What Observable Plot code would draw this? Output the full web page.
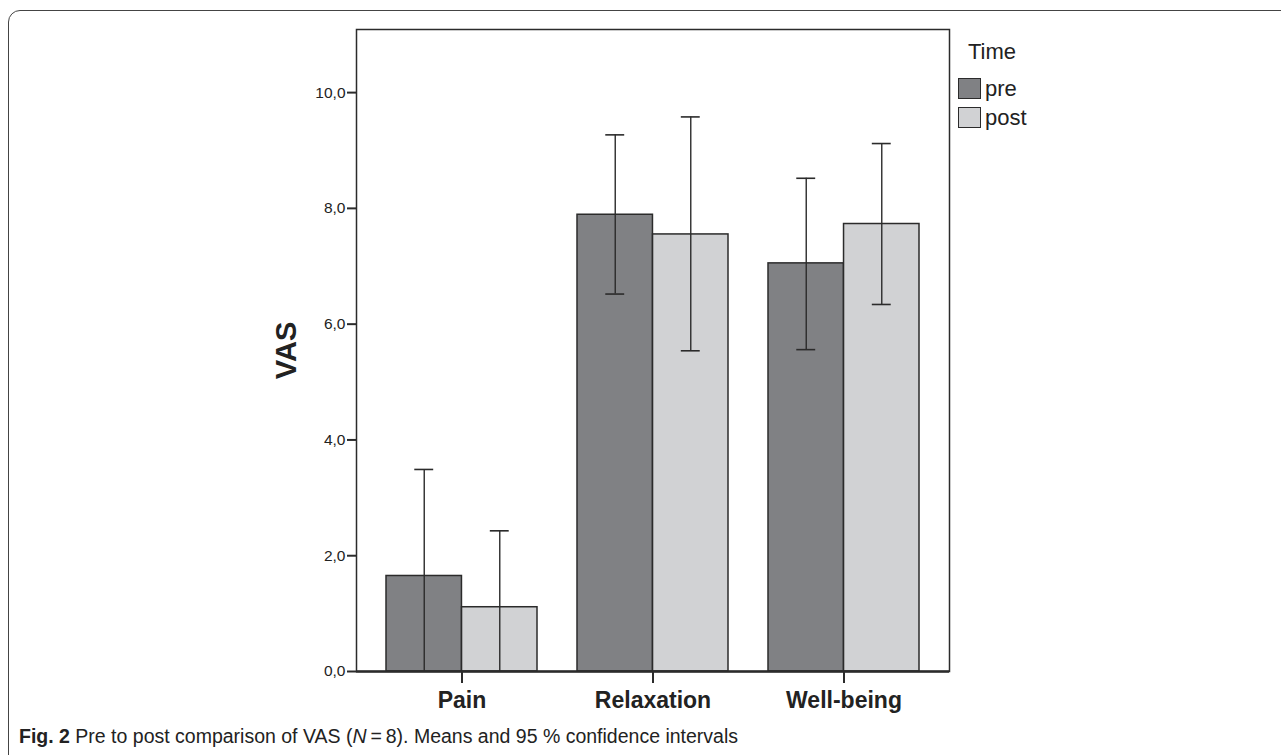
<!DOCTYPE html>
<html><head><meta charset="utf-8">
<script src="https://cdn.jsdelivr.net/npm/d3@7"></script>
<script src="https://cdn.jsdelivr.net/npm/@observablehq/plot@0.6"></script>
<style>
body{margin:0;background:#fff;font-family:"Liberation Sans",Arial,sans-serif;}
#wrap{position:relative;width:1281px;height:755px;overflow:hidden;background:#fff}
#box{position:absolute;left:8px;top:10px;width:1300px;height:780px;border:1.5px solid #444;border-radius:12px;box-sizing:border-box}
#chart{position:absolute;left:0;top:0}
#legend{position:absolute;left:958px;top:38px;color:#222}
#legend .title{font-size:22px;margin-left:10px;line-height:28px;margin-bottom:8px}
#legend .item{display:flex;align-items:center;height:29px;font-size:22px}
#legend .sw{width:23px;height:21px;border:1.5px solid #2b2b2b;box-sizing:border-box;margin-right:4px}
#caption{position:absolute;left:19px;top:725px;font-size:19.5px;color:#222;white-space:nowrap}
</style></head>
<body>
<div id="wrap">
  <div id="box"></div>
  <div id="chart"></div>
  <div id="legend"></div>
  <div id="caption"><b>Fig. 2</b> Pre to post comparison of VAS (<i>N</i>&#8201;=&#8201;8). Means and 95 % confidence intervals</div>
</div>
<script>
const categories = ["Pain", "Relaxation", "Well-being"];
const times = ["pre", "post"];
const preMean  = [1.65, 7.89, 7.05];
const preLow   = [-0.19, 6.52, 5.56];
const preHigh  = [3.49, 9.27, 8.52];
const postMean = [1.11, 7.55, 7.73];
const postLow  = [-0.21, 5.54, 6.34];
const postHigh = [2.43, 9.58, 9.12];
const yTicks = [0, 2, 4, 6, 8, 10];
const colors = {pre: "#808184", post: "#d1d2d4"};

const pre = categories.map((c, i) => ({cat: c, time: "pre", mean: preMean[i], lo: preLow[i], hi: preHigh[i]}));
const post = categories.map((c, i) => ({cat: c, time: "post", mean: postMean[i], lo: postLow[i], hi: postHigh[i]}));

const W = 1281, H = 755, mL = 356, mR = 332, mT = 29, mB = 84;
const pIn = 0.211, pOut = 0.154;
const inner = W - mL - mR;
const bw = inner * (1 - pIn) / (categories.length - pIn + 2 * pOut);
const cap = 19;
const stroke = "#2b2b2b";

const chart = Plot.plot({
  width: W, height: H,
  marginLeft: mL, marginRight: mR, marginTop: mT, marginBottom: mB,
  style: {fontFamily: "'Liberation Sans', Arial, sans-serif", color: "#222", background: "transparent"},
  x: {domain: categories, paddingInner: pIn, paddingOuter: pOut},
  y: {domain: [0, 11.09]},
  marks: [
    Plot.barY(pre, {x: "cat", y: "mean", fill: colors.pre, stroke, strokeWidth: 1.5, insetRight: bw / 2}),
    Plot.barY(post, {x: "cat", y: "mean", fill: colors.post, stroke, strokeWidth: 1.5, insetLeft: bw / 2}),
    Plot.ruleX(pre, {x: "cat", y1: "lo", y2: "hi", dx: -bw / 4, stroke, strokeWidth: 1.4, clip: true}),
    Plot.ruleX(post, {x: "cat", y1: "lo", y2: "hi", dx: bw / 4, stroke, strokeWidth: 1.4, clip: true}),
    Plot.tickY(pre, {x: "cat", y: "hi", stroke, strokeWidth: 1.6, insetLeft: bw / 4 - cap / 2, insetRight: 3 * bw / 4 - cap / 2, clip: true}),
    Plot.tickY(pre, {x: "cat", y: "lo", stroke, strokeWidth: 1.6, insetLeft: bw / 4 - cap / 2, insetRight: 3 * bw / 4 - cap / 2, clip: true}),
    Plot.tickY(post, {x: "cat", y: "hi", stroke, strokeWidth: 1.6, insetLeft: 3 * bw / 4 - cap / 2, insetRight: bw / 4 - cap / 2, clip: true}),
    Plot.tickY(post, {x: "cat", y: "lo", stroke, strokeWidth: 1.6, insetLeft: 3 * bw / 4 - cap / 2, insetRight: bw / 4 - cap / 2, clip: true}),
    Plot.frame({stroke, strokeWidth: 1.5}),
    Plot.ruleY([0], {stroke, strokeWidth: 2.5}),
    Plot.axisY(yTicks, {tickFormat: d => d.toFixed(1).replace(".", ","), tickSize: 9, tickPadding: 2, fontSize: 15.5, strokeWidth: 2, stroke, label: null}),
    Plot.axisX({tickSize: 12, tickPadding: 8, fontSize: 23, fontWeight: "bold", strokeWidth: 2, stroke, label: null}),
    Plot.text(["VAS"], {frameAnchor: "left", textAnchor: "middle", rotate: -90, dx: -70, fontSize: 29, fontWeight: "bold", fill: "#222"})
  ]
});
document.getElementById("chart").appendChild(chart);

const legend = document.getElementById("legend");
legend.innerHTML = `<div class="title">Time</div>` + times.map(t =>
  `<div class="item"><div class="sw" style="background:${colors[t]}"></div>${t}</div>`).join("");
</script>
</body></html>
